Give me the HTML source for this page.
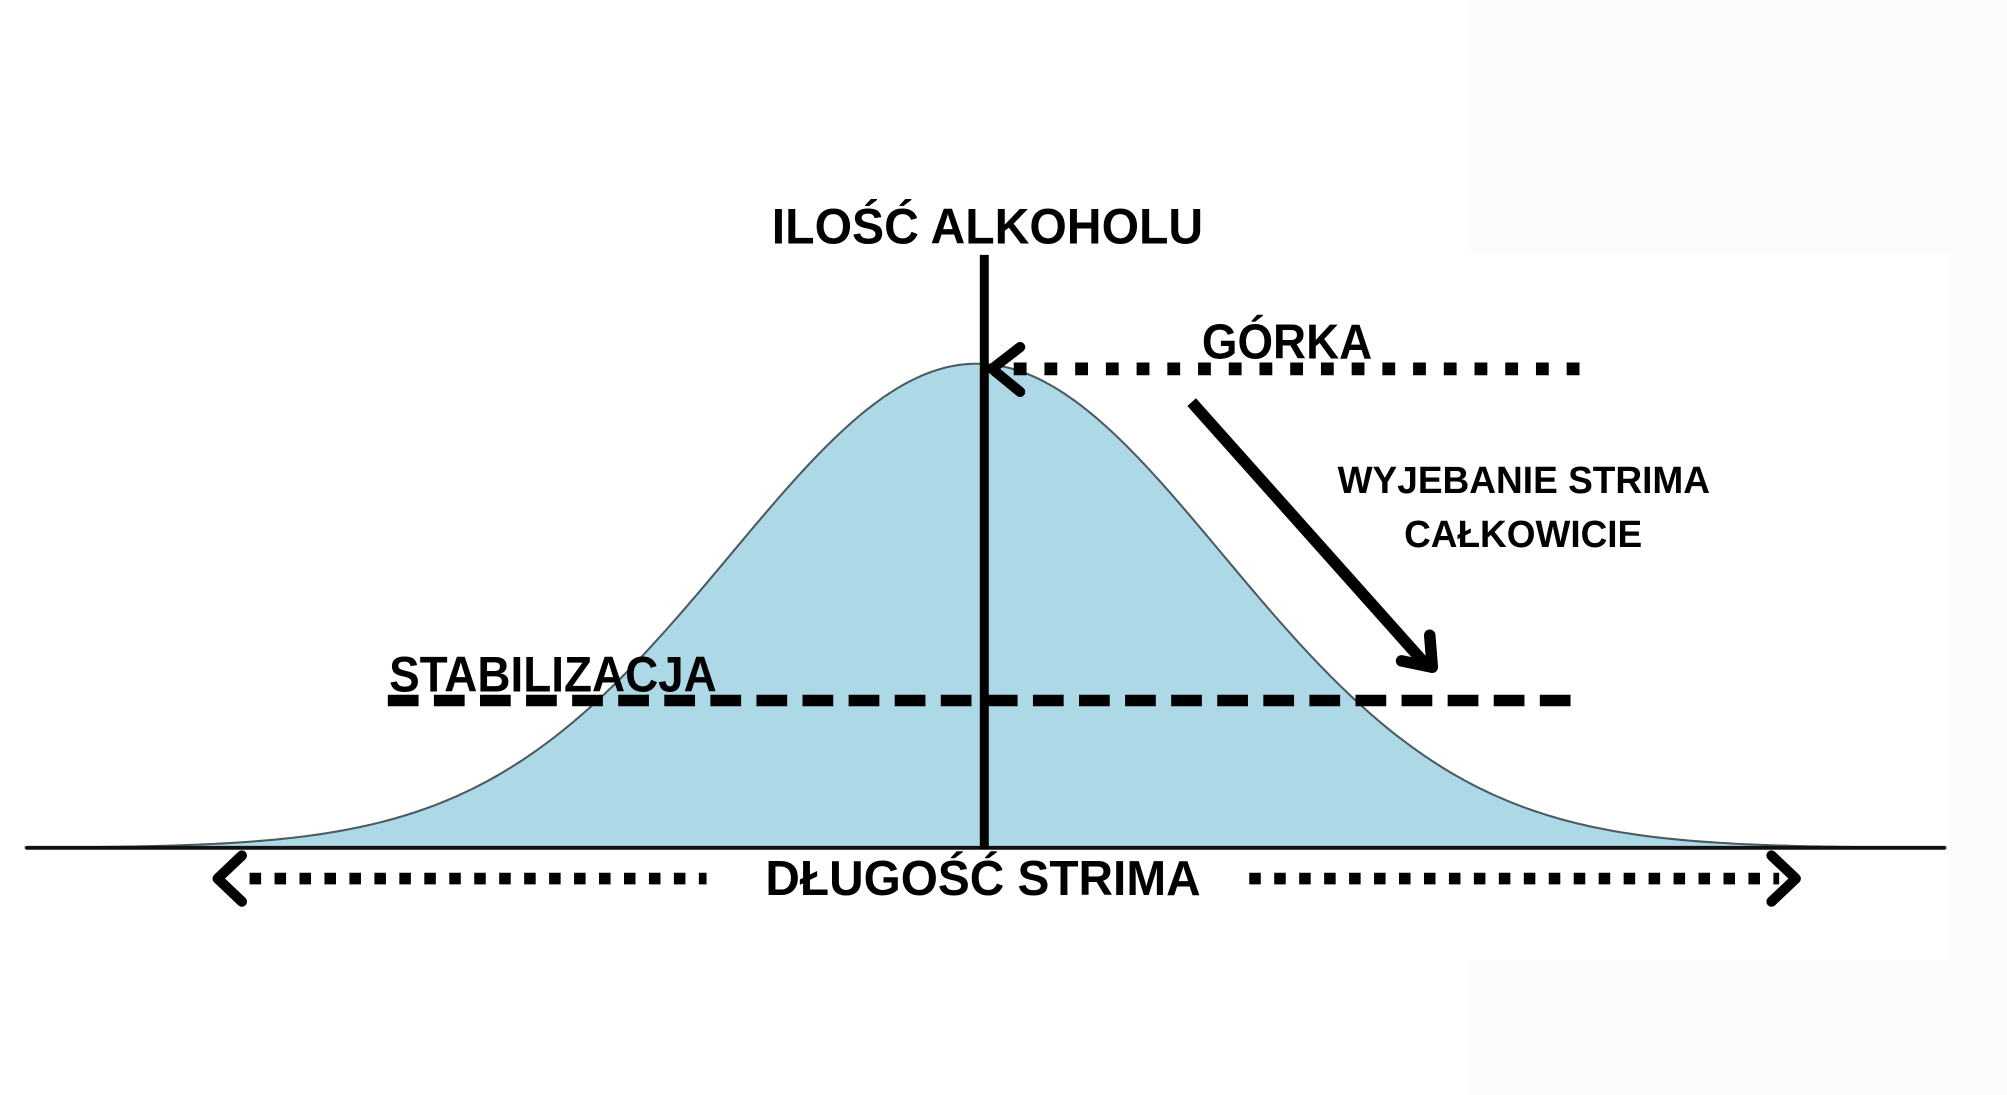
<!DOCTYPE html>
<html><head><meta charset="utf-8"><style>
html,body{margin:0;padding:0;background:#fff;}
svg{display:block;}
text{font-family:"Liberation Sans",sans-serif;font-weight:bold;fill:#000;}
</style></head><body>
<svg width="2007" height="1095" viewBox="0 0 1568 855" preserveAspectRatio="none" xmlns="http://www.w3.org/2000/svg">
<rect x="0" y="0" width="1568" height="855" fill="#fff"/>
<rect x="1148" y="0" width="420" height="198" fill="#fcfcfc"/>
<rect x="1521" y="0" width="47" height="855" fill="#fcfcfc"/>
<rect x="1148" y="750" width="420" height="105" fill="#fcfcfc"/>
<path id="bell" fill="#add8e6" stroke="#4a5a60" stroke-width="1.6" d=""/>
<line x1="20" y1="662" x2="1520" y2="662" stroke="#111" stroke-width="3"/>
<line x1="769" y1="199" x2="769" y2="663" stroke="#000" stroke-width="7"/>
<text x="603" y="190" font-size="39" textLength="337" lengthAdjust="spacingAndGlyphs">ILOŚĆ ALKOHOLU</text>
<text x="939" y="280" font-size="38" textLength="133" lengthAdjust="spacingAndGlyphs">GÓRKA</text>
<line x1="792" y1="288" x2="1240" y2="288" stroke="#000" stroke-width="10" stroke-dasharray="10 14"/>
<polyline points="797,271 775,288 797,306" fill="none" stroke="#000" stroke-width="8" stroke-linecap="round" stroke-linejoin="round"/>
<line x1="931" y1="314" x2="1114" y2="519" stroke="#000" stroke-width="9"/>
<polyline points="1117,496 1119,521 1095,516" fill="none" stroke="#000" stroke-width="9" stroke-linecap="round" stroke-linejoin="round"/>
<text x="1045" y="385" font-size="30" textLength="291" lengthAdjust="spacingAndGlyphs">WYJEBANIE STRIMA</text>
<text x="1097" y="427" font-size="30" textLength="186" lengthAdjust="spacingAndGlyphs">CAŁKOWICIE</text>
<text x="304" y="540" font-size="39" textLength="256" lengthAdjust="spacingAndGlyphs">STABILIZACJA</text>
<line x1="303" y1="547" x2="1230" y2="547" stroke="#000" stroke-width="9" stroke-dasharray="24 12"/>
<text x="598" y="699" font-size="38" textLength="340" lengthAdjust="spacingAndGlyphs">DŁUGOŚĆ STRIMA</text>
<line x1="195" y1="686" x2="552" y2="686" stroke="#000" stroke-width="9" stroke-dasharray="9 10.5"/>
<line x1="976" y1="686" x2="1390" y2="686" stroke="#000" stroke-width="9" stroke-dasharray="9 10.5"/>
<polyline points="189,668 170,686 189,704" fill="none" stroke="#000" stroke-width="8" stroke-linecap="round" stroke-linejoin="round"/>
<polyline points="1384,668 1403,686 1384,704" fill="none" stroke="#000" stroke-width="8" stroke-linecap="round" stroke-linejoin="round"/>
</svg>
<script>
(function(){
var c=763,s=192,b=662,h=378,d="M20,"+b+" ";
for(var x=20;x<=1520;x+=4){var y=b-h*Math.exp(-(x-c)*(x-c)/(2*s*s));d+="L"+x+","+y.toFixed(2)+" ";}
d+="L1520,"+b+" Z";
document.getElementById("bell").setAttribute("d",d);
})();
</script>
</body></html>
